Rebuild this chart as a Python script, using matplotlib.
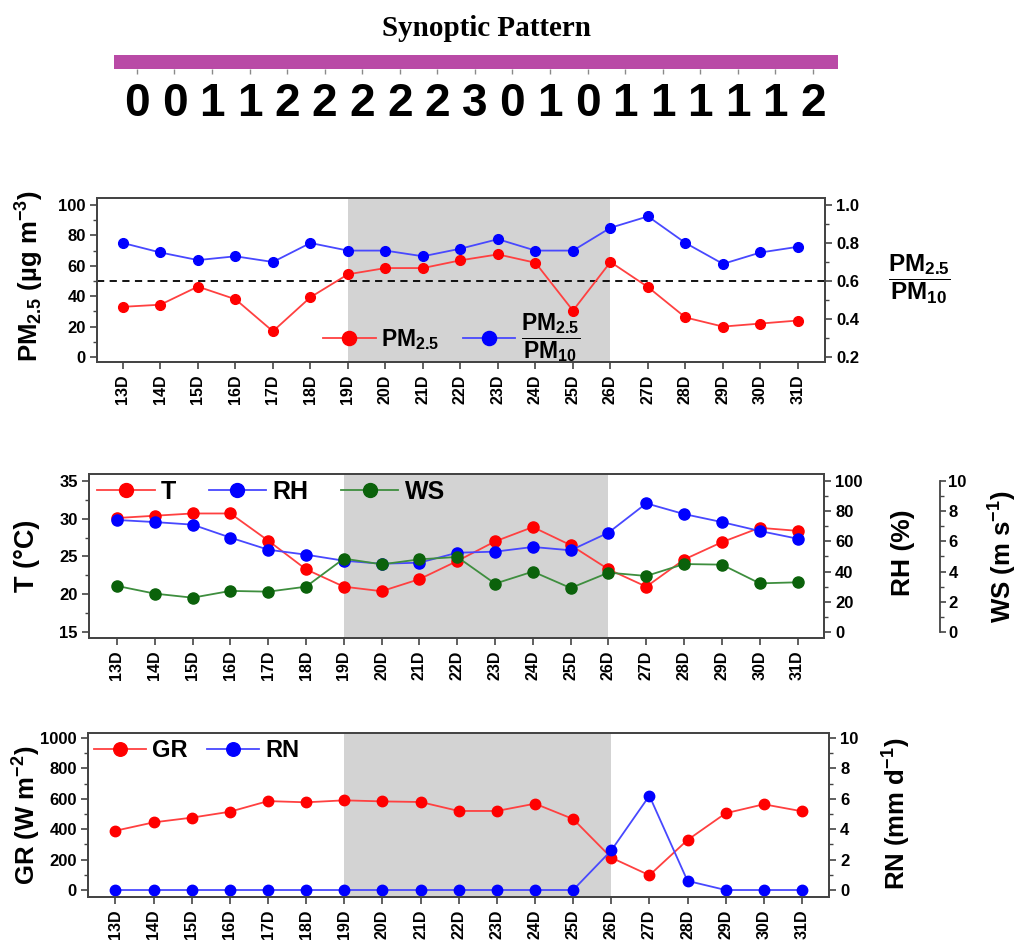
import matplotlib
matplotlib.use('Agg')
import matplotlib.pyplot as plt
from matplotlib.ticker import MultipleLocator

plt.rcParams['font.family'] = ['Liberation Sans', 'DejaVu Sans']
plt.rcParams['font.weight'] = 'bold'
plt.rcParams['mathtext.fontset'] = 'custom'
plt.rcParams['mathtext.rm'] = 'Liberation Sans'
plt.rcParams['mathtext.bf'] = 'Liberation Sans:bold'
plt.rcParams['mathtext.it'] = 'Liberation Sans:italic'
plt.rcParams['mathtext.sf'] = 'Liberation Sans'

# ---------------- data ----------------
days = list(range(13, 32))
day_labels = [f"{d}D" for d in days]
synoptic = [0, 0, 1, 1, 2, 2, 2, 2, 2, 3, 0, 1, 0, 1, 1, 1, 1, 1, 2]
shade_start, shade_end = 19, 26
pm25 = [33, 34.4, 46.3, 38, 16.9, 39.3, 54.4, 58.5, 58.5, 63.6, 67.5, 62, 30.5, 62.5, 46, 26, 20, 22, 24]
ratio = [0.80, 0.75, 0.71, 0.73, 0.70, 0.80, 0.76, 0.76, 0.73, 0.77, 0.82, 0.76, 0.76, 0.88, 0.94, 0.80, 0.69, 0.75, 0.78]
pm_threshold = 50
temp = [30.1, 30.4, 30.7, 30.7, 27.1, 23.3, 21.0, 20.4, 22.0, 24.4, 27.0, 28.9, 26.5, 23.3, 21.0, 24.6, 26.9, 28.8, 28.4]
rh = [74.2, 72.8, 71.1, 62.5, 54.5, 51.2, 47.2, 45.2, 45.9, 52.5, 53.2, 56.3, 54.1, 65.8, 85.2, 78.1, 72.8, 66.9, 61.8]
ws = [3.05, 2.54, 2.27, 2.72, 2.67, 3.0, 4.86, 4.48, 4.81, 4.97, 3.2, 4.0, 2.91, 3.93, 3.71, 4.5, 4.46, 3.22, 3.29]
gr = [390, 445, 476, 515, 585, 577, 590, 583, 579, 520, 520, 568, 467, 213, 97, 329, 505, 564, 518]
rn = [0, 0, 0, 0, 0, 0, 0, 0, 0, 0, 0, 0, 0, 2.6, 6.2, 0.6, 0, 0, 0]

# ---------------- styles ----------------
RED_L, RED_M = '#FF4040', '#FF0000'
BLUE_L, BLUE_M = '#4848FF', '#0000FF'
GREEN_L, GREEN_M = '#3E8E3E', '#0B620B'
SHADE = '#D3D3D3'
SPINE = '#444444'
FRAC = r'$\dfrac{\mathbf{PM}_{2.5}}{\mathbf{PM}_{10}}$'
TICK_FS = 12
LABEL_FS = 18.5

W, H = 1019, 942
fig = plt.figure(figsize=(W / 100, H / 100), dpi=100)


def rect(l, t, r, b):
    return [l / W, 1 - b / H, (r - l) / W, (b - t) / H]


def ftext(x, y, s, **kw):
    fig.text(x / W, 1 - y / H, s, **kw)


def style(ax, xlim, ylim, major, minor, xticks=True):
    ax.set_xlim(*xlim)
    ax.set_ylim(*ylim)
    ax.yaxis.set_major_locator(MultipleLocator(major))
    ax.yaxis.set_minor_locator(MultipleLocator(minor))
    ax.tick_params(axis='y', which='major', direction='out', length=5, width=1.2,
                   color=SPINE, labelsize=TICK_FS, pad=3)
    ax.tick_params(axis='y', which='minor', direction='out', length=3, width=1.0, color=SPINE)
    if xticks:
        ax.set_xticks(days, day_labels, rotation=90)
        ax.tick_params(axis='x', which='major', direction='out', length=5, width=1.2,
                       color=SPINE, labelsize=11.5, pad=4)
    for s in ax.spines.values():
        s.set_color(SPINE)
        s.set_linewidth(1.3)


# ---------------- synoptic strip ----------------
ftext(487, 28, 'Synoptic Pattern', ha='center', va='center', fontsize=21,
      fontweight='bold', family=['Liberation Serif', 'DejaVu Serif'])
axs = fig.add_axes(rect(114, 40, 838, 130))
axs.set_xlim(12.39, 31.67)
axs.set_ylim(90, 0)
axs.axhspan(15, 29, color='#B94AA6', lw=0)
axs.vlines(days, 29, 34, color='#8A8A8A', lw=1)
for d, s in zip(days, synoptic):
    axs.text(d, 64, str(s), ha='center', va='center', fontsize=33, fontweight='bold',
             family=['Liberation Sans Narrow', 'Liberation Sans'])
axs.axis('off')

# ---------------- panel 1 ----------------
ax1 = fig.add_axes(rect(97, 198, 825, 362))
ax1.axvspan(shade_start, shade_end, color=SHADE, lw=0, zorder=0)
ax1.axhline(pm_threshold, color='k', ls=(0, (4, 3)), lw=1.3, zorder=1)
l1, = ax1.plot(days, pm25, '-o', color=RED_L, mfc=RED_M, mec=RED_M, ms=7, lw=1.3)
ax1b = ax1.twinx()
l2, = ax1b.plot(days, ratio, '-o', color=BLUE_L, mfc=BLUE_M, mec=BLUE_M, ms=7, lw=1.3)
style(ax1, (12.31, 31.72), (-3.3, 104.6), 20, 10)
style(ax1b, (12.31, 31.72), (0.1736, 1.0368), 0.2, 0.1, xticks=False)
ax1b.set_yticks([0.2, 0.4, 0.6, 0.8, 1.0], ['0.2', '0.4', '0.6', '0.8', '1.0'])
ax1b.legend([l1, l2], ['PM$_{2.5}$', FRAC], loc='center left',
            bbox_to_anchor=((323 - 97) / 728, (362 - 338) / 164), ncol=2, frameon=False,
            fontsize=16.5, handlelength=2.3, handletextpad=0.25, columnspacing=1.0,
            borderpad=0, borderaxespad=0, markerscale=1.45)
ftext(30, 276, 'PM$_{2.5}$ (µg m$^{-3}$)', rotation=90, ha='center', va='center', fontsize=LABEL_FS)
ftext(919, 279, FRAC, ha='center', va='center', fontsize=17.5)

# ---------------- panel 2 ----------------
ax2 = fig.add_axes(rect(89, 474, 824, 638))
ax2.axvspan(shade_start, shade_end, color=SHADE, lw=0, zorder=0)
lT, = ax2.plot(days, temp, '-o', color=RED_L, mfc=RED_M, mec=RED_M, ms=8, lw=1.3)
ax2b = ax2.twinx()
lRH, = ax2b.plot(days, rh, '-o', color=BLUE_L, mfc=BLUE_M, mec=BLUE_M, ms=8, lw=1.3)
ax2c = ax2.twinx()
lWS, = ax2c.plot(days, ws, '-o', color=GREEN_L, mfc=GREEN_M, mec=GREEN_M, ms=8, lw=1.3)
xl2 = (12.26, 31.70)
style(ax2, xl2, (14.2, 35.93), 5, 2.5)
style(ax2b, xl2, (-4, 104.65), 20, 10, xticks=False)
style(ax2c, xl2, (-0.4, 10.465), 2, 1, xticks=False)
ax2c.spines['right'].set_position(('axes', (940 - 89) / 735))
ax2c.spines['right'].set_bounds(0, 10)
for s in ['top', 'left', 'bottom']:
    ax2c.spines[s].set_visible(False)
ax2c.tick_params(axis='y', which='major', pad=2, length=4)
ax2c.legend([lT, lRH, lWS], ['T', 'RH', 'WS'], loc='upper left',
            bbox_to_anchor=((97 - 89) / 735, (638 - 480) / 164), ncol=3, frameon=False,
            fontsize=18, handlelength=2.3, handletextpad=0.25, columnspacing=1.3,
            borderpad=0, borderaxespad=0, markerscale=1.25)
ftext(27, 556, 'T (°C)', rotation=90, ha='center', va='center', fontsize=LABEL_FS + 1)
ftext(903, 553, 'RH (%)', rotation=90, ha='center', va='center', fontsize=LABEL_FS + 0.5)
ftext(1003, 557, 'WS (m s$^{-1}$)', rotation=90, ha='center', va='center', fontsize=LABEL_FS)

# ---------------- panel 3 ----------------
ax3 = fig.add_axes(rect(88, 733, 829, 897))
ax3.axvspan(shade_start, shade_end, color=SHADE, lw=0, zorder=0)
lGR, = ax3.plot(days, gr, '-o', color=RED_L, mfc=RED_M, mec=RED_M, ms=7.5, lw=1.3)
ax3b = ax3.twinx()
lRN, = ax3b.plot(days, rn, '-o', color=BLUE_L, mfc=BLUE_M, mec=BLUE_M, ms=7.5, lw=1.3)
xl3 = (12.28, 31.71)
style(ax3, xl3, (-46, 1033), 200, 100)
style(ax3b, xl3, (-0.46, 10.33), 2, 1, xticks=False)
ax3b.legend([lGR, lRN], ['GR', 'RN'], loc='upper left',
            bbox_to_anchor=((94 - 88) / 741, (897 - 739) / 164), ncol=2, frameon=False,
            fontsize=17, handlelength=2.2, handletextpad=0.25, columnspacing=0.85,
            borderpad=0, borderaxespad=0, markerscale=1.3)
ftext(27, 815, 'GR (W m$^{-2}$)', rotation=90, ha='center', va='center', fontsize=LABEL_FS)
ftext(897, 814, 'RN (mm d$^{-1}$)', rotation=90, ha='center', va='center', fontsize=LABEL_FS)

fig.savefig('out.png', dpi=100)
